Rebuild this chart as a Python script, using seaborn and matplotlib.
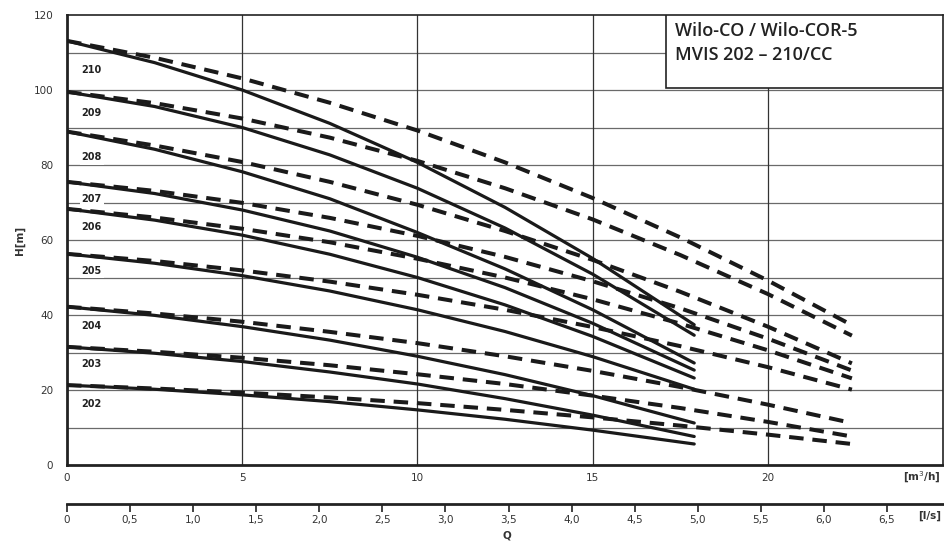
"""Pump curves Wilo-CO / Wilo-COR-5 MVIS 202 - 210/CC."""

import matplotlib.pyplot as plt
import pandas as pd
import seaborn as sns
from matplotlib.patches import Rectangle

# Flow points (m3/h) for solid and dashed curves
q_solid = [0, 2.5, 5, 7.5, 10, 12.5, 15, 17.9]
q_dashed = [0, 2.5, 5, 7.5, 10, 12.5, 15, 17.5, 20, 22.4]

pumps = ["210", "209", "208", "207", "206", "205", "204", "203", "202"]

# Head (m), solid curves
h_solid = {
    "210": [113.1, 107.3, 100.0, 91.1, 80.7, 68.7, 55.1, 37.4],
    "209": [99.5, 95.6, 90.0, 82.7, 73.8, 63.2, 50.9, 34.6],
    "208": [88.9, 84.2, 78.2, 71.0, 62.0, 52.3, 41.4, 27.2],
    "207": [75.5, 72.4, 68.0, 62.4, 55.4, 47.3, 37.8, 25.3],
    "206": [68.3, 65.3, 61.3, 56.2, 50.0, 42.7, 34.3, 23.2],
    "205": [56.3, 53.8, 50.5, 46.4, 41.4, 35.6, 28.9, 20.2],
    "204": [42.2, 39.9, 36.9, 33.3, 29.0, 24.1, 18.5, 11.2],
    "203": [31.5, 29.8, 27.6, 24.8, 21.6, 17.7, 13.3, 7.6],
    "202": [21.3, 20.2, 18.7, 16.9, 14.7, 12.2, 9.3, 5.6],
}

# Head (m), dashed curves
h_dashed = {
    "210": [113.1, 108.6, 103.1, 96.6, 89.2, 80.7, 71.2, 60.7, 49.2, 37.3],
    "209": [99.5, 96.5, 92.4, 87.3, 81.1, 73.8, 65.5, 56.0, 45.6, 34.5],
    "208": [88.9, 85.2, 80.8, 75.5, 69.4, 62.4, 54.7, 46.2, 36.9, 27.1],
    "207": [75.5, 73.1, 69.9, 65.9, 61.1, 55.5, 49.0, 41.8, 33.7, 25.2],
    "206": [68.3, 66.0, 63.0, 59.4, 55.0, 50.0, 44.2, 37.7, 30.6, 23.1],
    "205": [56.3, 54.4, 51.9, 48.9, 45.4, 41.4, 36.8, 31.7, 26.1, 20.1],
    "204": [42.2, 40.4, 38.2, 35.5, 32.5, 29.0, 25.1, 20.8, 16.1, 11.2],
    "203": [31.5, 30.2, 28.6, 26.6, 24.2, 21.6, 18.5, 15.2, 11.5, 7.6],
    "202": [21.3, 20.4, 19.3, 18.0, 16.5, 14.7, 12.7, 10.5, 8.1, 5.6],
}

label_y = {"210": 105.3, "209": 94.0, "208": 82.0, "207": 71.0, "206": 63.5,
           "205": 51.7, "204": 37.0, "203": 27.0, "202": 16.3}

q_ticks = [0, 5, 10, 15, 20]
h_ticks = [0, 20, 40, 60, 80, 100, 120]
ls_ticks = [0, 0.5, 1.0, 1.5, 2.0, 2.5, 3.0, 3.5, 4.0, 4.5, 5.0, 5.5, 6.0, 6.5]
ls_labels = ["0", "0,5", "1,0", "1,5", "2,0", "2,5", "3,0", "3,5", "4,0",
             "4,5", "5,0", "5,5", "6,0", "6,5"]

sns.set_theme(style="white")
plt.rcParams["font.family"] = ["DejaVu Sans"]

W, H = 944, 551
fig = plt.figure(figsize=(W / 100, H / 100), dpi=100)
ax = fig.add_axes([67 / W, 86 / H, 876 / W, 450 / H])

# grid
for y in range(10, 120, 10):
    ax.axhline(y, color="#6a6a6a", lw=0.9, zorder=1)
for x in [5, 10, 15, 20]:
    ax.axvline(x, color="#333333", lw=0.9, zorder=1)

# curves
rows = []
for p in pumps:
    for q, h in zip(q_solid, h_solid[p]):
        rows.append({"pump": p, "kind": "solid", "Q": q, "H": h})
    for q, h in zip(q_dashed, h_dashed[p]):
        rows.append({"pump": p, "kind": "dashed", "Q": q, "H": h})
df = pd.DataFrame(rows)

for p in pumps:
    d = df[(df["pump"] == p) & (df["kind"] == "dashed")]
    sns.lineplot(data=d, x="Q", y="H", ax=ax, color="#1a1a1a", lw=2.9,
                 linestyle=(0, (3.6, 2.2)), sort=False, estimator=None, zorder=3)
    s = df[(df["pump"] == p) & (df["kind"] == "solid")]
    sns.lineplot(data=s, x="Q", y="H", ax=ax, color="#1a1a1a", lw=2.3,
                 sort=False, estimator=None, zorder=4)

for p in pumps:
    ax.text(0.42, label_y[p], p, fontsize=7, fontweight="bold", color="#222222",
            ha="left", va="center", zorder=5,
            bbox=dict(facecolor="white", edgecolor="none", pad=1.5))

# title box
ax.add_patch(Rectangle((17.1, 100.5), 7.9, 19.5, facecolor="white",
                       edgecolor="#222222", lw=1.2, zorder=6))
ax.text(17.35, 115.6, "Wilo-CO / Wilo-COR-5", fontsize=13, fontweight="semibold",
        family="Open Sans", color="#222222", va="center", zorder=7)
ax.text(17.35, 109.4, "MVIS 202 – 210/CC", fontsize=13, fontweight="semibold",
        family="Open Sans", color="#222222", va="center", zorder=7)

ax.set_xlim(0, 25)
ax.set_ylim(0, 120)
ax.set_xticks(q_ticks)
ax.set_yticks(h_ticks)
ax.tick_params(axis="both", length=0, labelsize=7.5, labelcolor="#333333")
ax.tick_params(axis="x", pad=6)
ax.tick_params(axis="y", pad=10)
ax.set_xlabel("")
ax.set_ylabel("H[m]", fontsize=7.5, fontweight="bold", color="#333333", labelpad=6)
for side in ["left", "bottom"]:
    ax.spines[side].set_linewidth(2.0)
    ax.spines[side].set_color("#222222")
for side in ["top", "right"]:
    ax.spines[side].set_linewidth(1.2)
    ax.spines[side].set_color("#222222")

fig.text(941 / W, 1 - 477 / H, "[m$^3$/h]", fontsize=7.5, fontweight="bold",
         color="#333333", ha="right", va="center")

# secondary flow axis in l/s
ax2 = fig.add_axes([67 / W, 1 - 504 / H, 876 / W, 0.0001])
ax2.set_xlim(0, 25 / 3.6)
ax2.set_xticks(ls_ticks)
ax2.set_xticklabels(ls_labels)
ax2.set_yticks([])
for side in ["left", "right", "top"]:
    ax2.spines[side].set_visible(False)
ax2.spines["bottom"].set_linewidth(2.0)
ax2.spines["bottom"].set_color("#222222")
ax2.tick_params(axis="x", direction="out", length=6, width=1.2, color="#222222",
                labelsize=7.5, labelcolor="#333333", pad=2, bottom=True)
fig.text(941 / W, 1 - 516 / H, "[l/s]", fontsize=7.5, fontweight="bold",
         color="#333333", ha="right", va="center")
fig.text(507 / W, 1 - 536 / H, "Q", fontsize=7.5, fontweight="bold",
         color="#333333", ha="center", va="center")

fig.savefig("out.png", dpi=100)
plt.close(fig)
